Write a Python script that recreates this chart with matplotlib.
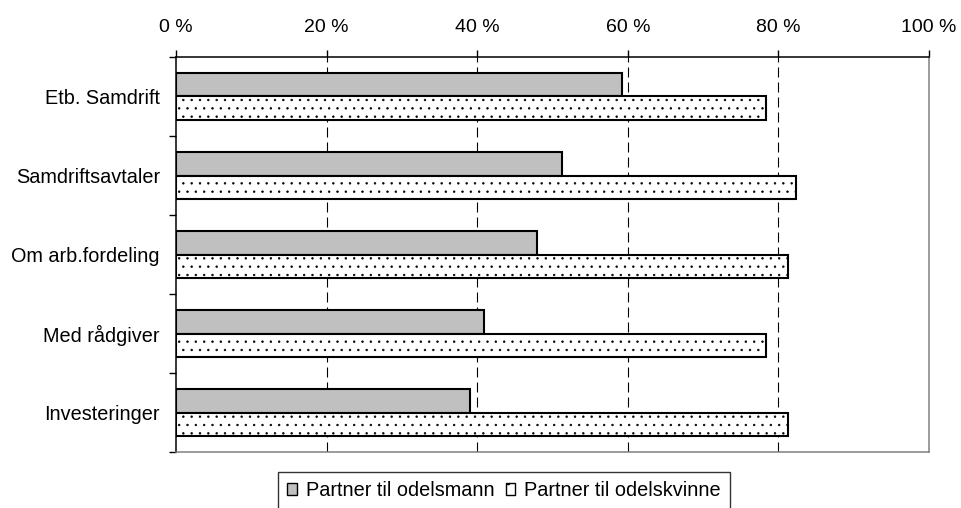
import numpy as np
import matplotlib
matplotlib.use("Agg")
import matplotlib.pyplot as plt

plt.rcParams["font.family"] = ["Liberation Sans", "DejaVu Sans"]
plt.rcParams["hatch.linewidth"] = 0.5

categories = [
    "Etb. Samdrift",
    "Samdriftsavtaler",
    "Om arb.fordeling",
    "Med rådgiver",
    "Investeringer",
]
odelsmann = [59.2, 51.2, 48.0, 40.9, 39.0]
odelskvinne = [78.3, 82.4, 81.3, 78.3, 81.3]
series_labels = ["Partner til odelsmann", "Partner til odelskvinne"]
xticks = [0, 20, 40, 60, 80, 100]
xticklabels = ["0 %", "20 %", "40 %", "60 %", "80 %", "100 %"]


def plot_bars(outfile="out.png"):
    fig = plt.figure(figsize=(9.61, 5.08), dpi=100)
    ax = fig.add_axes([0.1831, 0.1102, 0.7836, 0.7776])

    y = np.arange(len(categories))
    h = 0.295
    ax.barh(y - h / 2, odelsmann, height=h, color="#c0c0c0",
            edgecolor="black", linewidth=1.5, label=series_labels[0], zorder=3)
    ax.barh(y + h / 2, odelskvinne, height=h, color="white",
            edgecolor="black", linewidth=1.5, hatch="..",
            label=series_labels[1], zorder=3)

    # dashed grid lines, only inside the frame
    for t in xticks[1:-1]:
        ax.axvline(t, color="black", linewidth=0.8, linestyle=(0, (9, 4.5)),
                   zorder=1)

    ax.set_xlim(0, 100)
    ax.set_ylim(len(categories) - 0.5, -0.5)

    ax.xaxis.tick_top()
    ax.set_xticks(xticks)
    ax.set_xticklabels(xticklabels, fontsize=14)
    ax.tick_params(axis="x", direction="out", length=5, width=1,
                   pad=10, top=True, bottom=False)

    ax.set_yticks(y)
    ax.set_yticklabels(categories, fontsize=14.3)
    ax.tick_params(axis="y", which="major", length=0, pad=11.5)
    ax.set_yticks(np.arange(len(categories) + 1) - 0.5, minor=True)
    ax.tick_params(axis="y", which="minor", direction="out", length=5,
                   width=1)

    ax.spines["top"].set_color("black")
    ax.spines["left"].set_color("black")
    ax.spines["right"].set_color("#808080")
    ax.spines["bottom"].set_color("#808080")
    for s in ax.spines.values():
        s.set_linewidth(1.1)

    leg = fig.legend(
        loc="upper center",
        bbox_to_anchor=(0.5245, 0.0709),
        ncol=2,
        fontsize=14.3,
        frameon=True,
        fancybox=False,
        edgecolor="black",
        handlelength=0.5,
        handleheight=0.5,
        handletextpad=0.45,
        columnspacing=0.55,
        borderpad=0.45,
        borderaxespad=0,
    )
    leg.get_frame().set_linewidth(1.0)
    for p in leg.get_patches():
        p.set_linewidth(1.0)
    leg.get_patches()[1].set_hatch(".")

    fig.savefig(outfile, dpi=100)
    plt.close(fig)


if __name__ == "__main__":
    plot_bars()
